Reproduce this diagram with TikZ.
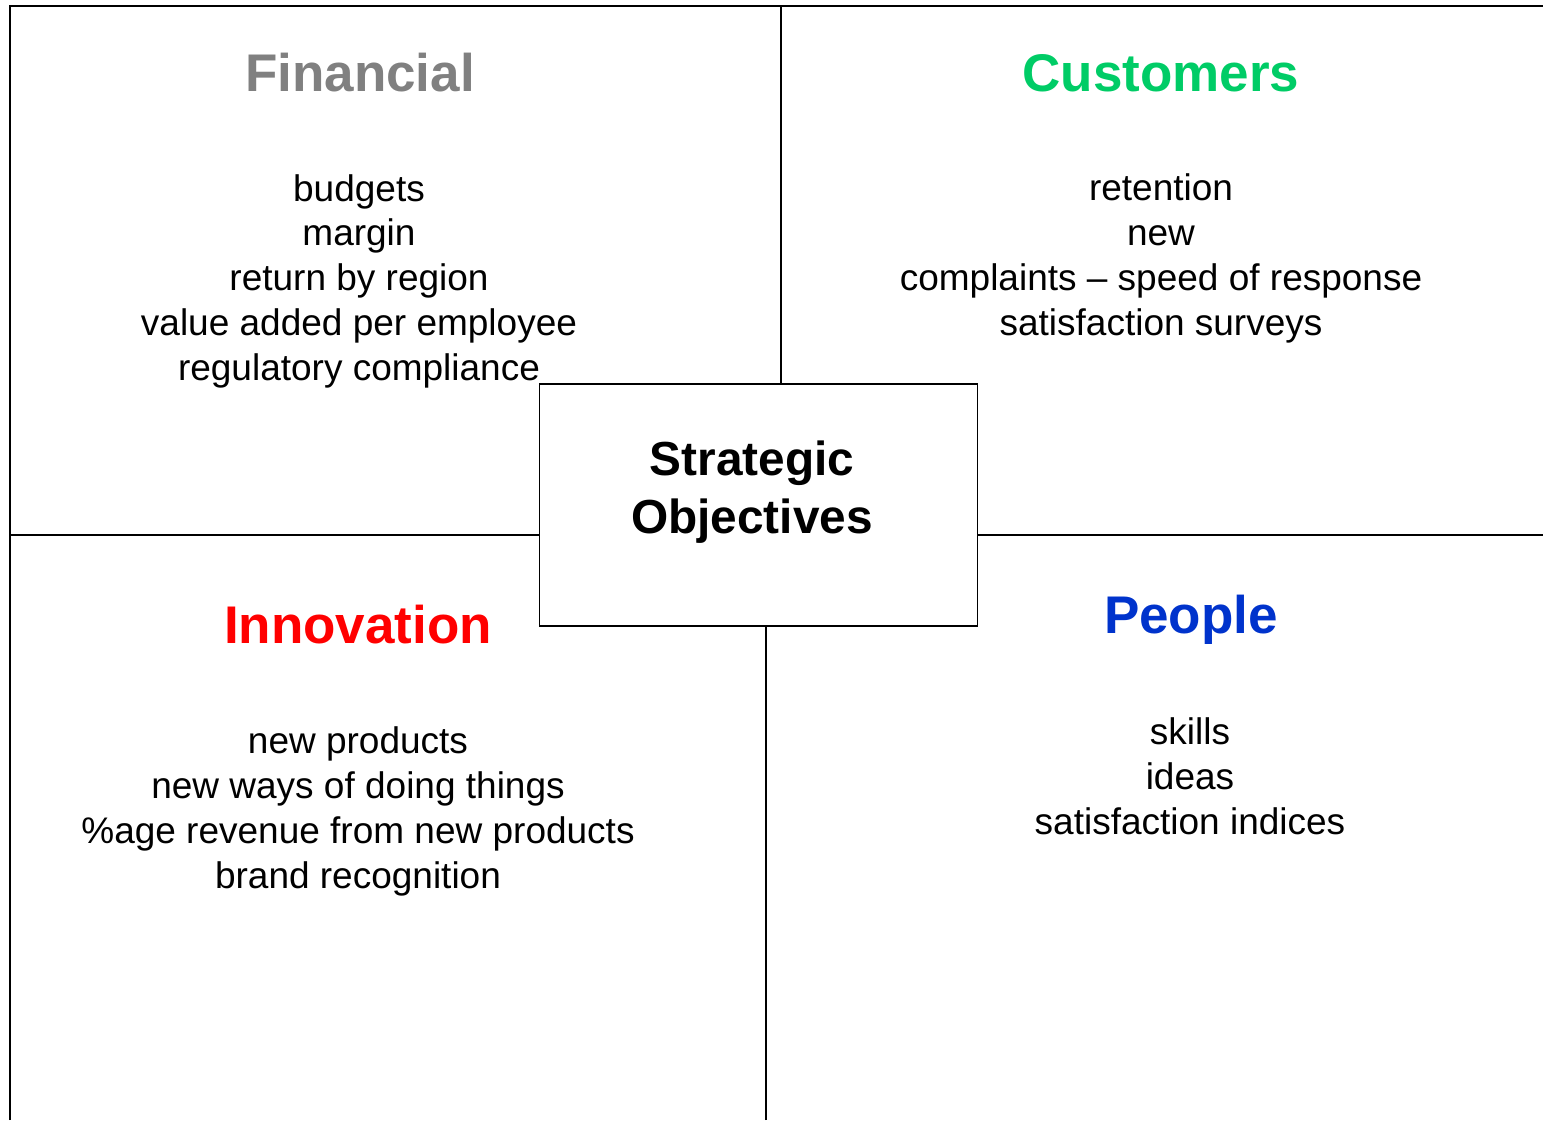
\documentclass[tikz,border=0pt]{standalone}
\usepackage{fontspec}
\setmainfont{Liberation Sans}
\definecolor{fingray}{HTML}{808080}
\definecolor{custgreen}{HTML}{00CC66}
\definecolor{innored}{HTML}{FF0000}
\definecolor{peopleblue}{HTML}{0033CC}
\begin{document}
\begin{tikzpicture}[x=1pt,y=-1pt,
  border/.style={line width=2.2pt},
  divider/.style={line width=1.6pt},
  title/.style={anchor=base,inner sep=0pt,font=\fontsize{53}{60}\selectfont\bfseries},
  body/.style={anchor=base,inner sep=0pt,align=center,font=\fontsize{37}{44.7}\selectfont},
  centerbox/.style={draw,line width=1.6pt,fill=white,minimum width=438pt,minimum height=242pt,inner sep=0pt}
]
\useasboundingbox (0,0) rectangle (1543,1120);
% outer frame (top and left)
\coordinate (tl) at (10,5.8);
\coordinate (tr) at (1543,5.8);
\coordinate (bl) at (10,1120);
\draw[border] (bl) -- (tl) -- (tr);
% central box
\node[centerbox] (box) at (758.5,505) {};
% dividers
\coordinate (vtop) at (781,5.8);
\coordinate (vbot) at (766,1120);
\coordinate (hleft) at (10,535);
\coordinate (hright) at (1543,535);
\draw[divider] (vtop) -- (vtop |- box.north);
\draw[divider] (vbot) -- (vbot |- box.south);
\draw[divider] (hleft) -- (hleft -| box.west);
\draw[divider] (hright) -- (hright -| box.east);
% titles
\node[title,text=fingray] (fin) at (360,91) {Financial};
\node[title,text=custgreen] (cust) at (1161,91) {Customers};
\node[title,text=innored] (inno) at (358,643) {Innovation};
\node[title,text=peopleblue] (people) at (1191,633) {People};
% bodies (anchor=base is the baseline of the last line)
\node[body] (finbody) at (359,380) {budgets\\margin\\return by region\\value added per employee\\regulatory compliance};
\node[body] (custbody) at (1161,335) {retention\\new\\complaints – speed of response\\satisfaction surveys};
\node[body] (innobody) at (358,888) {new products\\new ways of doing things\\\%age revenue from new products\\brand recognition};
\node[body] (peoplebody) at (1190,834) {skills\\ideas\\satisfaction indices};
% centre text
\node[anchor=base,inner sep=0pt,align=center,font=\fontsize{47.8}{58}\selectfont\bfseries] (strat) at (752,533) {Strategic\\Objectives};
\end{tikzpicture}
\end{document}
